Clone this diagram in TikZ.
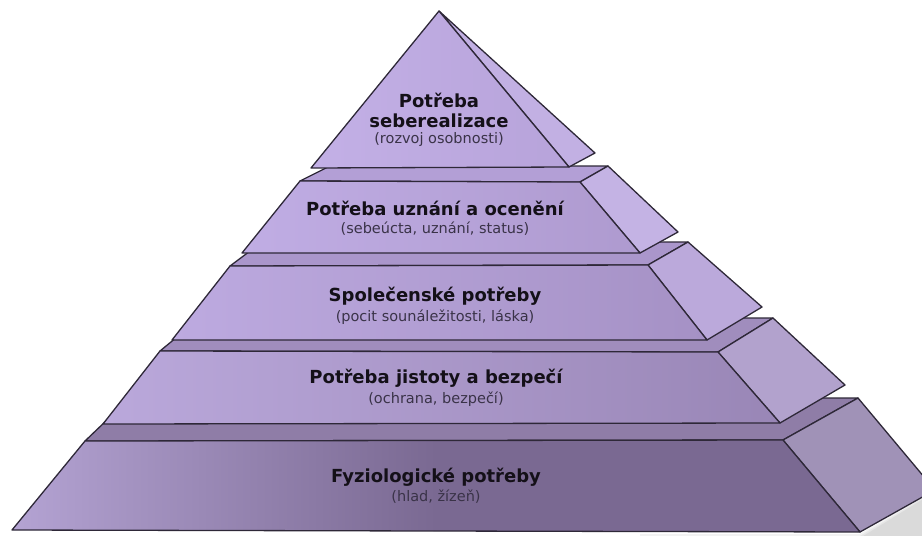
\documentclass[tikz,border=0pt]{standalone}
\usepackage{fontspec}
\setsansfont{DejaVu Sans}
\usetikzlibrary{positioning}

\definecolor{lineC}{HTML}{2E2838}
\definecolor{titleC}{HTML}{141018}
\definecolor{subC}{HTML}{3A3348}
% front faces (left / right), tops and sides
\definecolor{f1l}{HTML}{C3B0E6}\definecolor{f1r}{HTML}{B7A3DA}
\definecolor{f2l}{HTML}{C0ADE4}\definecolor{f2r}{HTML}{AE9ACF}
\definecolor{f3l}{HTML}{BDAAE0}\definecolor{f3r}{HTML}{A591C5}
\definecolor{f4l}{HTML}{BAA8DB}\definecolor{f4r}{HTML}{9986B6}
\definecolor{f5l}{HTML}{BBAADB}\definecolor{f5r}{HTML}{7A6992}
\definecolor{s1}{HTML}{C2B0E3}\definecolor{s2}{HTML}{C4B3E4}
\definecolor{s3}{HTML}{BBA9DB}\definecolor{s4}{HTML}{B2A2CD}
\definecolor{s5}{HTML}{A092B7}
\definecolor{p2}{HTML}{B39FD6}\definecolor{p3}{HTML}{AA96CB}
\definecolor{p4}{HTML}{A08DBD}\definecolor{p5}{HTML}{8F7DA7}

\pgfdeclarehorizontalshading{basefront}{100bp}{color(0bp)=(f5l); color(22bp)=(f5l);
  color(50bp)=(f5r); color(100bp)=(f5r)}

\begin{document}
\begin{tikzpicture}[x=1pt,y=-1pt,line join=round,node distance=21pt,
    face/.style={draw=lineC,line width=1.3pt},
    title/.style={font=\sffamily\bfseries\fontsize{18}{20}\selectfont,text=titleC,align=center},
    sub/.style={font=\sffamily\fontsize{14.5}{17}\selectfont,text=subC}]
  \clip (0,0) rectangle (922,536);

  % soft shadow
  \foreach \d in {2,4,6}
    \fill[black,opacity=0.05] (640,532+\d) -- (860,532+\d) -- (935+\d,488) -- (935,545) -- (640,545) -- cycle;

  % level 5
  \path[face,fill=p5] (85,441) -- (783,440) -- (858,398) -- (130,398) -- cycle;
  \path[face,fill=s5] (783,440) -- (858,398) -- (935,490) -- (860,532) -- cycle;
  \path[face,shading=basefront] (85,441) -- (783,440) -- (860,532) -- (12,530) -- cycle;

  % level 4
  \path[face,fill=p4] (160,351) -- (718,352) -- (773,318) -- (200,318) -- cycle;
  \path[face,fill=s4] (718,352) -- (773,318) -- (845,385) -- (780,423) -- cycle;
  \path[face,left color=f4l,right color=f4r] (160,351) -- (718,352) -- (780,423) -- (103,424) -- cycle;

  % level 3
  \path[face,fill=p3] (230,266) -- (648,265) -- (688,242) -- (262,242) -- cycle;
  \path[face,fill=s3] (648,265) -- (688,242) -- (762,307) -- (707,340) -- cycle;
  \path[face,left color=f3l,right color=f3r] (230,266) -- (648,265) -- (707,340) -- (172,340) -- cycle;

  % level 2
  \path[face,fill=p2] (300,181) -- (580,182) -- (608,166) -- (330,166) -- cycle;
  \path[face,fill=s2] (580,182) -- (608,166) -- (678,232) -- (640,253) -- cycle;
  \path[face,left color=f2l,right color=f2r] (300,181) -- (580,182) -- (640,253) -- (242,253) -- cycle;

  % level 1
  \path[face,fill=s1] (439,11) -- (595,153) -- (569,167) -- cycle;
  \path[face,left color=f1l,right color=f1r] (439,11) -- (569,167) -- (311,168) -- cycle;

  % labels
  \node[title] (t1) at (439,110) {Potřeba\\seberealizace};
  \node[sub] (d1) at (439,139) {(rozvoj osobnosti)};
  \node[title] (t2) at (435,208) {Potřeba uznání a ocenění};
  \node[sub, below=of t2.center, anchor=center] (d2) {(sebeúcta, uznání, status)};
  \node[title] (t3) at (435,296) {Společenské potřeby};
  \node[sub, below=of t3.center, anchor=center] (d3) {(pocit sounáležitosti, láska)};
  \node[title] (t4) at (436,378) {Potřeba jistoty a bezpečí};
  \node[sub, below=of t4.center, anchor=center] (d4) {(ochrana, bezpečí)};
  \node[title] (t5) at (436,477) {Fyziologické potřeby};
  \node[sub, below=20pt of t5.center, anchor=center] (d5) {(hlad, žízeň)};
\end{tikzpicture}
\end{document}
